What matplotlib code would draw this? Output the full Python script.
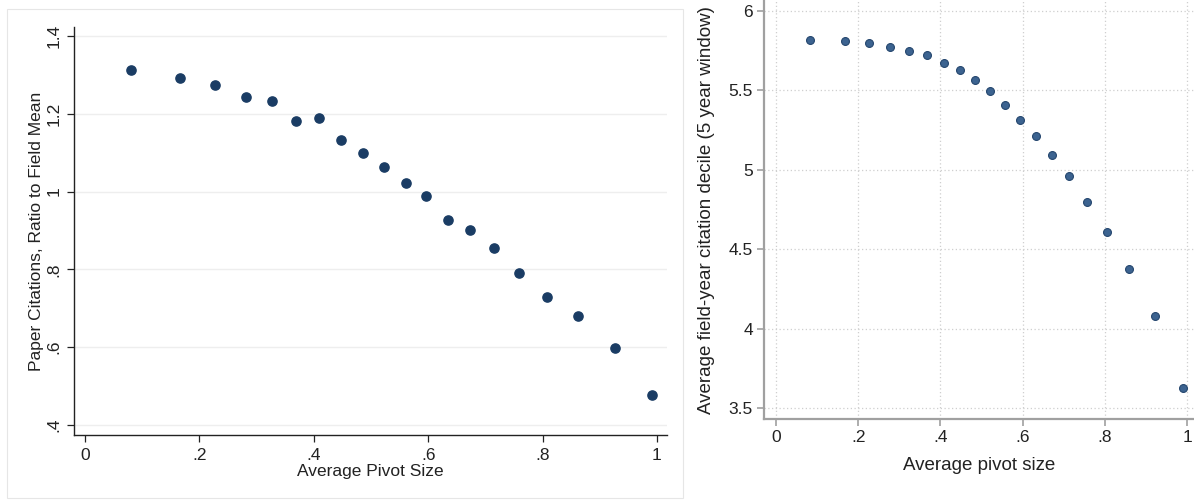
import matplotlib
matplotlib.use("Agg")
import matplotlib.pyplot as plt
from matplotlib.patches import Rectangle

plt.rcParams['font.family'] = ['Liberation Sans', 'DejaVu Sans']

# left panel: paper citations vs pivot size
pivotL = [0.080, 0.167, 0.228, 0.281, 0.327, 0.369, 0.410, 0.448, 0.487, 0.523,
          0.561, 0.597, 0.634, 0.673, 0.715, 0.759, 0.808, 0.862, 0.927, 0.991]
citeRatio = [1.312, 1.293, 1.273, 1.244, 1.234, 1.181, 1.190, 1.133, 1.099, 1.062,
             1.023, 0.989, 0.927, 0.901, 0.855, 0.790, 0.729, 0.679, 0.597, 0.476]

# right panel: citation decile vs pivot size
pivotR = [0.083, 0.167, 0.227, 0.278, 0.324, 0.367, 0.409, 0.447, 0.484, 0.521,
          0.558, 0.594, 0.633, 0.672, 0.714, 0.757, 0.805, 0.859, 0.922, 0.990]
decile = [5.818, 5.814, 5.797, 5.772, 5.751, 5.722, 5.676, 5.631, 5.563, 5.494,
          5.411, 5.316, 5.215, 5.095, 4.958, 4.799, 4.609, 4.373, 4.082, 3.627]

xticksL = [0, 0.2, 0.4, 0.6, 0.8, 1]
xlabsL = ['0', '.2', '.4', '.6', '.8', '1']
yticksL = [0.4, 0.6, 0.8, 1.0, 1.2, 1.4]
ylabsL = ['.4', '.6', '.8', '1', '1.2', '1.4']
yticksR = [3.5, 4, 4.5, 5, 5.5, 6]
ylabsR = ['3.5', '4', '4.5', '5', '5.5', '6']

fig = plt.figure(figsize=(11.94, 5.0), dpi=100)

# frame around left graph
fig.patches.append(Rectangle((7/1194, 1-498/500), 676/1194, 489/500,
                             transform=fig.transFigure, fill=False,
                             edgecolor='#e6e6e6', linewidth=0.8))

ax = fig.add_axes([74/1194, 1-435/500, 593/1194, 408/500])
ax.scatter(pivotL, citeRatio, s=44, color='#1a3c64', zorder=3)
ax.set_xlim(-0.019, 1.0175)
ax.set_ylim(0.374, 1.423)
ax.set_xticks(xticksL)
ax.set_xticklabels(xlabsL)
ax.set_yticks(yticksL)
ax.set_yticklabels(ylabsL, rotation=90, va='center')
for s in ['top', 'right']:
    ax.spines[s].set_visible(False)
for s in ['left', 'bottom']:
    ax.spines[s].set_color('#222222')
    ax.spines[s].set_linewidth(1.0)
ax.tick_params(direction='out', length=5, width=0.9, colors='#222222',
               labelsize=12.5, pad=4)
ax.yaxis.grid(True, color='#eeeeee', linewidth=1.0)
ax.set_axisbelow(True)
ax.set_xlabel('Average Pivot Size', fontsize=12.5, color='#222222', labelpad=1)
ax.set_ylabel('Paper Citations, Ratio to Field Mean', fontsize=12.5,
              color='#222222', labelpad=2)

ax2 = fig.add_axes([764/1194, 1-419.3/500, 430/1194, 419.3/500])
ax2.scatter(pivotR, decile, s=32, color='#3c6390', edgecolors='#24466e',
            linewidths=0.8, zorder=3)
ax2.set_xlim(-0.029, 1.017)
ax2.set_ylim(3.428, 6.07)
ax2.set_xticks(xticksL)
ax2.set_xticklabels(xlabsL)
ax2.set_yticks(yticksR)
ax2.set_yticklabels(ylabsR)
for s in ['top', 'right']:
    ax2.spines[s].set_visible(False)
for s in ['left', 'bottom']:
    ax2.spines[s].set_color('#a0a0a0')
    ax2.spines[s].set_linewidth(1.6)
ax2.tick_params(direction='out', length=5, width=1.2, color='#a0a0a0',
                labelcolor='#222222', labelsize=12.5, pad=3)
ax2.grid(True, color='#cfcfcf', linestyle=(0, (1, 2)), linewidth=0.9)
ax2.set_axisbelow(True)
ax2.set_xlabel('Average pivot size', fontsize=13.5, color='#222222', labelpad=8)
ax2.set_ylabel('Average field-year citation decile (5 year window)',
               fontsize=13.5, color='#222222', labelpad=10)

fig.savefig('out.png', dpi=100)
